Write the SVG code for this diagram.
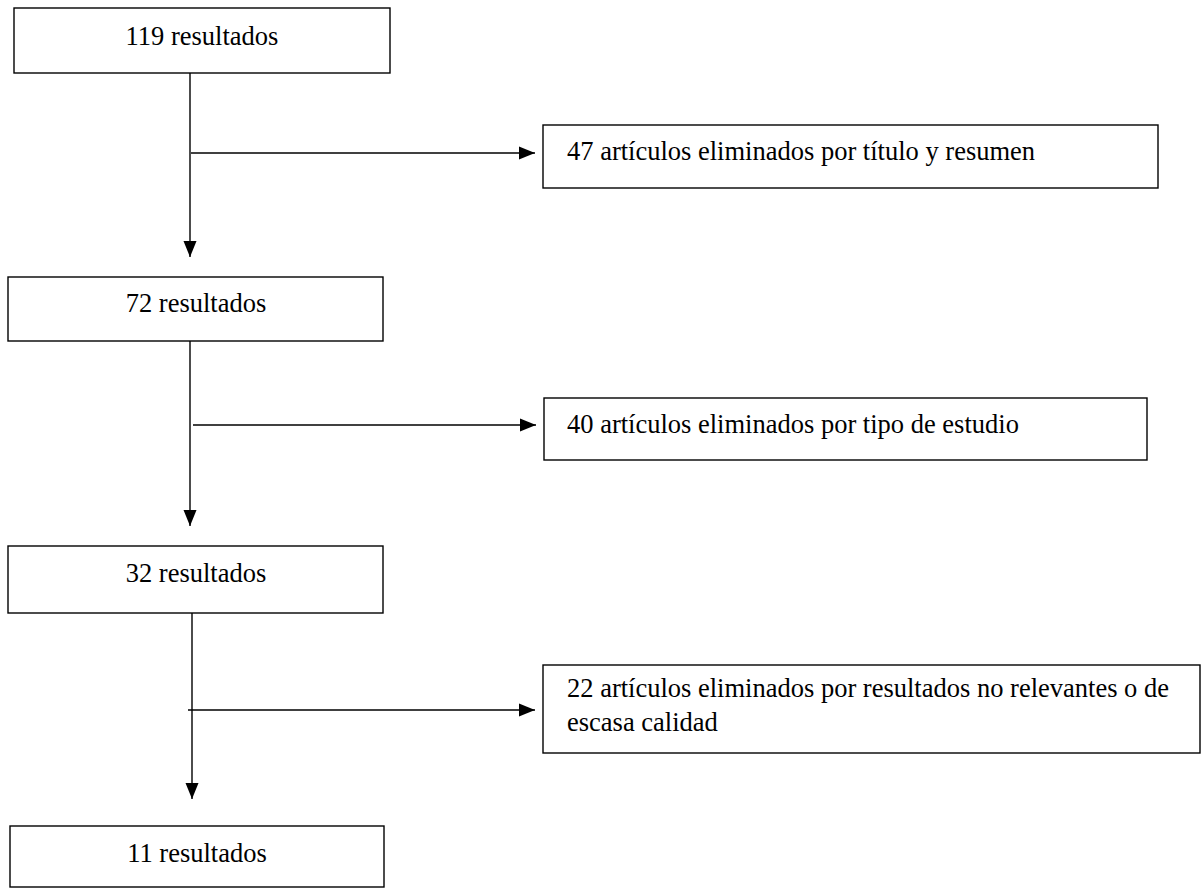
<svg xmlns="http://www.w3.org/2000/svg" width="1202" height="888" viewBox="0 0 1202 888">
<style>
.box{fill:#fff;stroke:#000;stroke-width:1.4}
.t{font-family:"Liberation Serif","Times New Roman",serif;font-size:26.5px;fill:#000}
.c{text-anchor:middle}
.ln{stroke:#000;stroke-width:1.4;fill:none}
</style>
<defs>
<marker id="ah" markerWidth="16" markerHeight="14" refX="16" refY="7" orient="auto" markerUnits="userSpaceOnUse">
<path d="M0,0.5 L16,7 L0,13.5 Z" fill="#000"/>
</marker>
</defs>
<rect width="1202" height="888" fill="#fff"/>
<g id="connectors">
<line class="ln" x1="190" y1="73" x2="190" y2="257" marker-end="url(#ah)"/>
<line class="ln" x1="191" y1="153" x2="535" y2="153" marker-end="url(#ah)"/>
<line class="ln" x1="190" y1="341" x2="190" y2="526" marker-end="url(#ah)"/>
<line class="ln" x1="193" y1="425" x2="536" y2="425" marker-end="url(#ah)"/>
<line class="ln" x1="192" y1="613" x2="192" y2="799" marker-end="url(#ah)"/>
<line class="ln" x1="188" y1="710" x2="535" y2="710" marker-end="url(#ah)"/>
</g>
<g id="n119">
<rect class="box" x="14" y="8" width="376" height="65"/>
<text class="t c" x="202" y="45">119 resultados</text>
</g>
<g id="e47">
<rect class="box" x="543" y="125" width="615" height="63"/>
<text class="t" x="567" y="160">47 artículos eliminados por título y resumen</text>
</g>
<g id="n72">
<rect class="box" x="8" y="277" width="375" height="64"/>
<text class="t c" x="196" y="312">72 resultados</text>
</g>
<g id="e40">
<rect class="box" x="544" y="398" width="603" height="62"/>
<text class="t" x="567" y="433">40 artículos eliminados por tipo de estudio</text>
</g>
<g id="n32">
<rect class="box" x="8" y="546" width="375" height="67"/>
<text class="t c" x="196" y="582">32 resultados</text>
</g>
<g id="e22">
<rect class="box" x="543" y="665" width="657" height="88"/>
<text class="t" x="567" y="697">22 artículos eliminados por resultados no relevantes o de</text>
<text class="t" x="567" y="731">escasa calidad</text>
</g>
<g id="n11">
<rect class="box" x="10" y="826" width="374" height="61"/>
<text class="t c" x="197" y="862">11 resultados</text>
</g>
</svg>
